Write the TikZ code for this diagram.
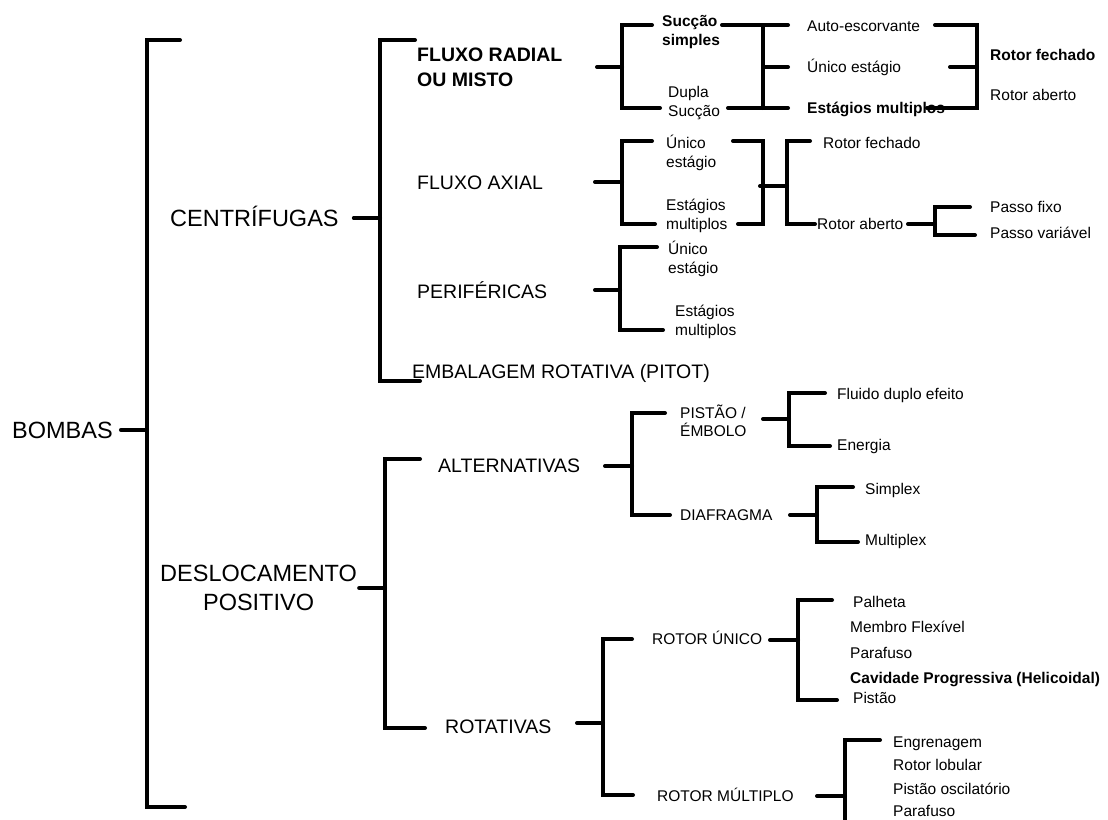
\documentclass[tikz,border=0pt]{standalone}
\usepackage{fontspec}
\setmainfont{Liberation Sans}
\usetikzlibrary{calc}

\tikzset{
  br/.style={line width=4pt, line cap=round},
  lbl/.style={inner sep=0pt, anchor=west},
  big/.style={lbl, font=\fontsize{23.5}{29}\selectfont, text height=16.8pt, text depth=0pt},
  mid/.style={lbl, font=\fontsize{19.5}{25}\selectfont, text height=14pt, text depth=0pt},
  midbf/.style={mid, font=\fontsize{19.5}{25}\selectfont\bfseries},
  sml/.style={lbl, font=\fontsize{15.5}{18.5}\selectfont, text height=11.1pt, text depth=0pt},
  smlbf/.style={sml, font=\fontsize{15.5}{18.5}\selectfont\bfseries},
  two/.style={text height={}, text depth={}, align=left},
}

\begin{document}
\begin{tikzpicture}[x=1pt, y=-1pt]
    \useasboundingbox (0,0) rectangle (1108,819);
    \clip (0,0) rectangle (1108,819);

    % Root
    \node[big] (bombas) at (12,430) {BOMBAS};
    \coordinate (s0) at (147,0);
    \draw[br] (180,40) -| (147,807) -- (185,807);
    \draw[br] ([xshift=8pt]bombas.east) -- (bombas -| s0);

    % Main groups
    \node[big] (cent) at (170,218) {CENTRÍFUGAS};
    \node[big, two, align=center] (desl) at (160,588) {DESLOCAMENTO\\POSITIVO};
    \coordinate (s1) at (380,0);
    \coordinate (s2) at (385,0);
    \draw[br] ([xshift=15pt]cent.east) -- (cent -| s1);
    \draw[br] (415,40) -| (380,381) -- (420,381);
    \draw[br] ([xshift=2pt]desl.east) -- (desl -| s2);
    \draw[br] (420,459) -| (385,728) -- (425,728);

    % Centrifugas
    \node[midbf, two] (radial) at (417,67) {FLUXO RADIAL\\OU MISTO};
    \node[mid] (axial) at (417,182) {FLUXO AXIAL};
    \node[mid] (perif) at (417,291) {PERIFÉRICAS};
    \node[mid] (pitot) at (412,371) {EMBALAGEM ROTATIVA (PITOT)};

    % Fluxo radial ou misto
    \draw[br] (597,67) -- (622,67);
    \draw[br] (652,25) -| (622,108) -- (660,108);
    \node[smlbf, two] (ssimp) at (662,32) {Sucção\\simples};
    \node[sml, two] (dupla) at (668,103) {Dupla\\Sucção};
    \draw[br] (722,25) -- (788,25);
    \draw[br] (728,108) -- (788,108);
    \draw[br] (763,25) -- (763,108);
    \draw[br] (763,67) -- (788,67);
    \node[sml] (auto) at (807,26) {Auto-escorvante};
    \node[sml] (unico1) at (807,67) {Único estágio};
    \node[smlbf] (multi1) at (807,108) {Estágios multiplos};
    \draw[br] (935,25) -| (977,108) -- (927,108);
    \draw[br] (950,67) -- (977,67);
    \node[smlbf] (rfech1) at (990,55) {Rotor fechado};
    \node[sml] (rab1) at (990,95) {Rotor aberto};

    % Fluxo axial
    \draw[br] (595,182) -- (622,182);
    \draw[br] (652,141) -| (622,224) -- (655,224);
    \node[sml, two] (axun) at (666,153) {Único\\estágio};
    \node[sml, two] (axmul) at (666,216) {Estágios\\multiplos};
    \draw[br] (733,141) -| (763,224) -- (738,224);
    \draw[br] (760,186) -- (787,186);
    \draw[br] (810,141) -| (787,224) -- (815,224);
    \node[sml] (rfech2) at (823,143) {Rotor fechado};
    \node[sml] (rab2) at (817,224) {Rotor aberto};
    \draw[br] (908,224) -- (935,224);
    \draw[br] (970,207) -| (935,235) -- (975,235);
    \node[sml] (pfixo) at (990,207) {Passo fixo};
    \node[sml] (pvar) at (990,233) {Passo variável};

    % Perifericas
    \draw[br] (595,290) -- (620,290);
    \draw[br] (657,247) -| (620,330) -- (663,330);
    \node[sml, two] (perun) at (668,259) {Único\\estágio};
    \node[sml, two] (permul) at (675,322) {Estágios\\multiplos};

    % Deslocamento positivo
    \node[mid] (alt) at (438,465) {ALTERNATIVAS};
    \node[mid] (rot) at (445,726) {ROTATIVAS};

    % Alternativas
    \draw[br] (605,466) -- (632,466);
    \draw[br] (665,413) -| (632,515) -- (670,515);
    \node[sml, two] (pist) at (680,421) {PISTÃO /\\ÉMBOLO};
    \node[sml] (diaf) at (680,515) {DIAFRAGMA};
    \draw[br] (763,419) -- (789,419);
    \draw[br] (825,393) -| (789,446) -- (830,446);
    \node[sml] (fluido) at (837,394) {Fluido duplo efeito};
    \node[sml] (energ) at (837,445) {Energia};
    \draw[br] (790,515) -- (817,515);
    \draw[br] (853,487) -| (817,542) -- (858,542);
    \node[sml] (simplex) at (865,489) {Simplex};
    \node[sml] (multiplex) at (865,540) {Multiplex};

    % Rotativas
    \draw[br] (577,723) -- (603,723);
    \draw[br] (632,639) -| (603,795) -- (633,795);
    \node[sml] (runico) at (652,639) {ROTOR ÚNICO};
    \node[sml] (rmult) at (657,796) {ROTOR MÚLTIPLO};
    \draw[br] (770,640) -- (798,640);
    \draw[br] (832,600) -| (798,700) -- (837,700);
    \node[sml] (palheta) at (853,602) {Palheta};
    \node[sml] (membro) at (850,627) {Membro Flexível};
    \node[sml] (paraf1) at (850,653) {Parafuso};
    \node[smlbf] (cavid) at (850,678) {Cavidade Progressiva (Helicoidal)};
    \node[sml] (pistao) at (853,698) {Pistão};
    \draw[br] (817,796) -- (845,796);
    \draw[br] (880,740) -| (845,840);
    \foreach \yy/\txt [count=\i] in {742/Engrenagem, 765/Rotor lobular, 789/Pistão oscilatório, 811/Parafuso}
        \node[sml] (rm\i) at (893,\yy) {\txt};
\end{tikzpicture}
\end{document}
